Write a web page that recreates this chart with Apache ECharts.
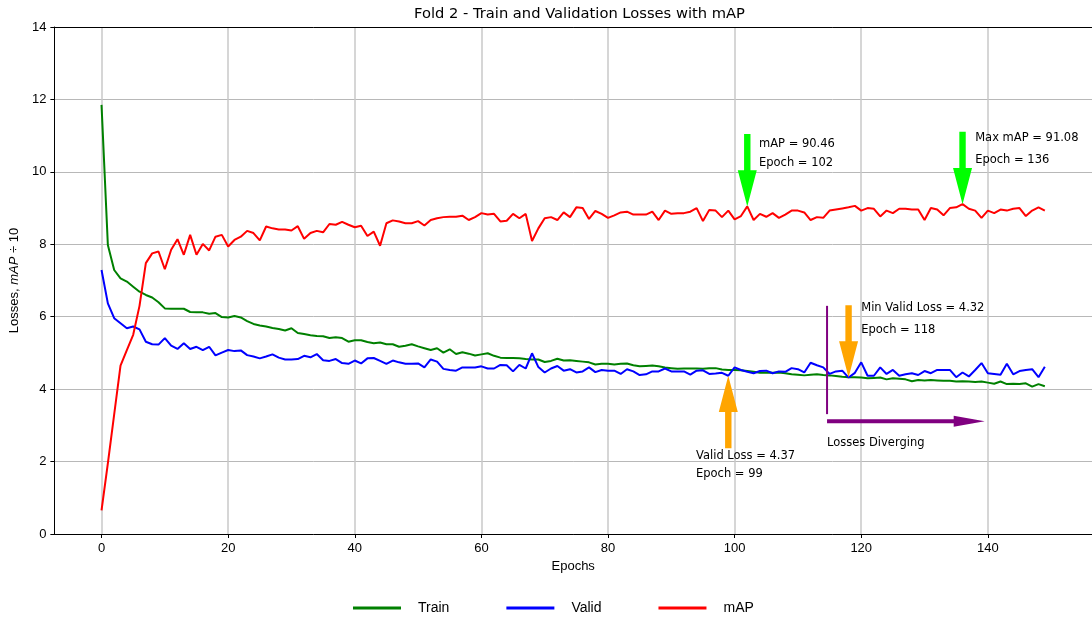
<!DOCTYPE html>
<html>
<head>
<meta charset="utf-8">
<script src="https://cdn.jsdelivr.net/npm/echarts@6/dist/echarts.min.js"></script>
<style>
  html, body { margin: 0; padding: 0; background: #ffffff; }
  #chart { width: 1092px; height: 621px; }
</style>
</head>
<body>
<div id="chart"></div>
<script>
// Per-epoch training history for fold 2 (mAP is stored divided by 10)
const trainLoss = [
  11.85, 7.98, 7.29, 7.06, 6.97, 6.83, 6.69, 6.60, 6.53, 6.40,
  6.23, 6.22, 6.22, 6.22, 6.13, 6.12, 6.12, 6.08, 6.10, 5.99,
  5.98, 6.02, 5.98, 5.88, 5.80, 5.76, 5.73, 5.69, 5.66, 5.62,
  5.68, 5.55, 5.52, 5.49, 5.47, 5.46, 5.41, 5.43, 5.41, 5.31,
  5.35, 5.35, 5.30, 5.27, 5.29, 5.24, 5.24, 5.17, 5.20, 5.24,
  5.18, 5.13, 5.08, 5.13, 5.01, 5.10, 4.97, 5.02, 4.98, 4.93,
  4.96, 4.99, 4.92, 4.87, 4.86, 4.86, 4.85, 4.83, 4.82, 4.82,
  4.75, 4.78, 4.84, 4.79, 4.80, 4.78, 4.76, 4.74, 4.68, 4.70,
  4.70, 4.68, 4.70, 4.71, 4.66, 4.63, 4.64, 4.65, 4.63, 4.60,
  4.58, 4.56, 4.57, 4.57, 4.57, 4.56, 4.58, 4.58, 4.54, 4.53,
  4.53, 4.52, 4.50, 4.48, 4.45, 4.46, 4.45, 4.46, 4.44, 4.41,
  4.40, 4.38, 4.40, 4.41, 4.39, 4.38, 4.36, 4.34, 4.33, 4.33,
  4.32, 4.30, 4.31, 4.32, 4.27, 4.30, 4.29, 4.27, 4.22, 4.25,
  4.24, 4.25, 4.24, 4.23, 4.23, 4.21, 4.22, 4.21, 4.20, 4.21,
  4.18, 4.15, 4.21, 4.14, 4.15, 4.14, 4.16, 4.07, 4.14, 4.08
];
const validLoss = [
  7.29, 6.37, 5.96, 5.82, 5.68, 5.73, 5.65, 5.31, 5.24, 5.23,
  5.41, 5.20, 5.11, 5.27, 5.11, 5.17, 5.08, 5.17, 4.93, 5.01,
  5.08, 5.05, 5.07, 4.94, 4.90, 4.85, 4.90, 4.96, 4.87, 4.82,
  4.82, 4.83, 4.92, 4.88, 4.97, 4.80, 4.78, 4.83, 4.72, 4.70,
  4.79, 4.71, 4.85, 4.86, 4.78, 4.70, 4.79, 4.74, 4.70, 4.70,
  4.71, 4.60, 4.82, 4.76, 4.56, 4.53, 4.51, 4.60, 4.60, 4.60,
  4.63, 4.57, 4.57, 4.67, 4.66, 4.49, 4.67, 4.57, 4.99, 4.61,
  4.46, 4.57, 4.64, 4.51, 4.55, 4.46, 4.49, 4.60, 4.47, 4.53,
  4.51, 4.51, 4.42, 4.55, 4.49, 4.39, 4.41, 4.49, 4.49, 4.57,
  4.49, 4.49, 4.49, 4.40, 4.51, 4.52, 4.42, 4.43, 4.45, 4.37,
  4.60, 4.53, 4.48, 4.44, 4.50, 4.51, 4.44, 4.49, 4.48, 4.58,
  4.55, 4.46, 4.73, 4.66, 4.60, 4.42, 4.49, 4.51, 4.32, 4.45,
  4.74, 4.37, 4.37, 4.60, 4.42, 4.53, 4.37, 4.41, 4.44, 4.39,
  4.50, 4.44, 4.53, 4.53, 4.53, 4.33, 4.46, 4.35, 4.53, 4.72,
  4.44, 4.42, 4.40, 4.70, 4.41, 4.50, 4.53, 4.55, 4.33, 4.62
];
const mapScaled = [
  0.65, 1.95, 3.30, 4.65, 5.08, 5.50, 6.30, 7.48, 7.75, 7.80,
  7.31, 7.85, 8.14, 7.71, 8.26, 7.71, 8.01, 7.83, 8.21, 8.26,
  7.94, 8.12, 8.21, 8.37, 8.31, 8.11, 8.49, 8.44, 8.41, 8.41,
  8.38, 8.50, 8.15, 8.31, 8.37, 8.33, 8.56, 8.54, 8.62, 8.54,
  8.47, 8.51, 8.23, 8.35, 7.96, 8.58, 8.66, 8.63, 8.58, 8.58,
  8.64, 8.52, 8.67, 8.72, 8.75, 8.76, 8.76, 8.79, 8.67, 8.75,
  8.86, 8.82, 8.84, 8.63, 8.65, 8.84, 8.72, 8.84, 8.09, 8.44,
  8.72, 8.75, 8.67, 8.88, 8.75, 9.02, 9.00, 8.70, 8.92, 8.84,
  8.73, 8.80, 8.88, 8.90, 8.82, 8.82, 8.82, 8.90, 8.67, 8.93,
  8.84, 8.86, 8.86, 8.90, 9.00, 8.64, 8.95, 8.93, 8.75, 8.93,
  8.69, 8.78, 9.046, 8.67, 8.84, 8.76, 8.86, 8.73, 8.82, 8.93,
  8.93, 8.88, 8.67, 8.75, 8.73, 8.93, 8.96, 8.99, 9.02, 9.06,
  8.93, 9.00, 8.98, 8.77, 8.93, 8.86, 8.98, 8.98, 8.96, 8.96,
  8.67, 9.00, 8.96, 8.80, 9.00, 9.02, 9.108, 8.98, 8.93, 8.73,
  8.93, 8.86, 8.96, 8.93, 8.98, 9.00, 8.78, 8.93, 9.02, 8.93
];
const xTickValues = [0, 20, 40, 60, 80, 100, 120, 140];
const seriesNames = ['Train', 'Valid', 'mAP'];

// Epochs of interest for the annotations
const markedMapEpoch = 102;
const markedValidEpoch = 99;
const divergeStartEpoch = 114.6;
const divergeEndEpoch = 139.5;

const epochs = trainLoss.map((_, i) => i);
const argBest = (arr, better) => arr.reduce((b, v, i) => (better(v, arr[b]) ? i : b), 0);
const bestMapEpoch = argBest(mapScaled, (a, b) => a > b);
const minValidEpoch = argBest(validLoss, (a, b) => a < b);

const toPairs = arr => epochs.map(e => [e, arr[e]]);

const GREEN = '#00ff00', ORANGE = '#ffa500', PURPLE = '#800080';
const annFont = '11.5px "DejaVu Sans"';

// Annotation layout: arrows point at data values; text anchors are in data units
const annotations = [
  { kind: 'down', x: markedMapEpoch, y: mapScaled[markedMapEpoch], color: GREEN,
    lines: ['mAP = ' + (mapScaled[markedMapEpoch] * 10).toFixed(2), 'Epoch = ' + markedMapEpoch],
    textX: markedMapEpoch + 1.85, textY: [10.765, 10.257] },
  { kind: 'down', x: bestMapEpoch, y: mapScaled[bestMapEpoch], color: GREEN,
    lines: ['Max mAP = ' + (mapScaled[bestMapEpoch] * 10).toFixed(2), 'Epoch = ' + bestMapEpoch],
    textX: bestMapEpoch + 2.0, textY: [10.93, 10.33] },
  { kind: 'up', x: markedValidEpoch, y: validLoss[markedValidEpoch], color: ORANGE,
    lines: ['Valid Loss = ' + validLoss[markedValidEpoch].toFixed(2), 'Epoch = ' + markedValidEpoch],
    textX: markedValidEpoch - 5.1, textY: [2.155, 1.657] },
  { kind: 'down', x: minValidEpoch, y: validLoss[minValidEpoch], color: ORANGE,
    lines: ['Min Valid Loss = ' + validLoss[minValidEpoch].toFixed(2), 'Epoch = ' + minValidEpoch],
    textX: minValidEpoch + 2.0, textY: [6.235, 5.635] },
  { kind: 'diverge', x: divergeStartEpoch, y: 3.11, color: PURPLE,
    lines: ['Losses Diverging'], textX: divergeStartEpoch, textY: [2.52] }
];

function verticalArrow(api, a) {
  const dir = a.kind === 'down' ? 1 : -1;           // tail sits above for down arrows
  const tip = api.coord([a.x, a.y]);
  const base = api.coord([a.x, a.y + dir * 1]);
  const tail = api.coord([a.x, a.y + dir * 2]);
  const sw = 3.2, hw = 9.5;
  const cx = tip[0];
  return {
    type: 'polygon',
    shape: { points: [
      [cx - sw, tail[1]], [cx + sw, tail[1]], [cx + sw, base[1]], [cx + hw, base[1]],
      [cx, tip[1]], [cx - hw, base[1]], [cx - sw, base[1]]
    ] },
    style: { fill: a.color }
  };
}

function divergeMarks(api, a) {
  const top = api.coord([a.x, 6.3]);
  const bottom = api.coord([a.x, 3.31]);
  const start = api.coord([a.x, a.y]);
  const end = api.coord([divergeEndEpoch, a.y]);
  const headLen = 31, hh = 5.5, sh = 2;
  const hx = end[0] - headLen, cy = start[1];
  return [
    { type: 'line', shape: { x1: top[0], y1: top[1], x2: bottom[0], y2: bottom[1] },
      style: { stroke: a.color, lineWidth: 2 } },
    { type: 'polygon',
      shape: { points: [
        [start[0], cy - sh], [hx, cy - sh], [hx, cy - hh], [end[0], cy],
        [hx, cy + hh], [hx, cy + sh], [start[0], cy + sh]
      ] },
      style: { fill: a.color } }
  ];
}

function renderAnnotation(params, api) {
  const a = annotations[params.dataIndex];
  const children = a.kind === 'diverge' ? divergeMarks(api, a) : [verticalArrow(api, a)];
  a.lines.forEach((t, i) => {
    const p = api.coord([a.textX, a.textY[i]]);
    children.push({
      type: 'text',
      style: { text: t, x: p[0], y: p[1], font: annFont, fill: '#000000',
               align: 'left', verticalAlign: 'middle' }
    });
  });
  return { type: 'group', children: children };
}

const chart = echarts.init(document.getElementById('chart'), null, { renderer: 'canvas' });

const tickFont = { fontFamily: '"Liberation Sans", Arial, sans-serif', fontSize: 13, color: '#000000' };

chart.setOption({
  animation: false,
  backgroundColor: '#ffffff',
  title: {
    text: 'Fold 2 - Train and Validation Losses with mAP',
    left: 414, top: 7, padding: 0,
    textStyle: { fontFamily: '"DejaVu Sans"', fontSize: 14.7, fontWeight: 'normal', color: '#000000' }
  },
  grid: { left: 52, right: 0, top: 27, bottom: 87, containLabel: false },
  legend: {
    data: seriesNames,
    left: 353, top: 601, padding: 0,
    icon: 'rect', itemWidth: 48, itemHeight: 3, itemGap: 57,
    textStyle: { fontFamily: '"Liberation Sans", Arial, sans-serif', fontSize: 14, color: '#000000',
                 padding: [0, 0, 0, 12] }
  },
  xAxis: [{
    type: 'value', min: -7.45, max: 156.45,
    name: 'Epochs', nameLocation: 'middle', nameGap: 24,
    nameTextStyle: tickFont,
    axisLine: { show: true, onZero: false, lineStyle: { color: '#000000', width: 1 } },
    axisTick: { show: true, customValues: xTickValues, length: 4, inside: false,
                lineStyle: { color: '#000000' } },
    axisLabel: { customValues: xTickValues, margin: 8, ...tickFont },
    splitLine: { show: true, lineStyle: { color: '#c8c8c8', width: 1.5 } }
  }, {
    type: 'value', position: 'top', min: -7.45, max: 156.45,
    axisLine: { show: true, onZero: false, lineStyle: { color: '#000000', width: 1 } },
    axisTick: { show: false }, axisLabel: { show: false }, splitLine: { show: false }
  }],
  yAxis: {
    type: 'value', min: 0, max: 14, interval: 2,
    name: '{n|Losses, }{i|mAP}{n| ÷ 10}', nameLocation: 'middle', nameGap: 23,
    nameTextStyle: { rich: {
      n: { fontFamily: '"Liberation Sans", Arial, sans-serif', fontSize: 13, color: '#000000' },
      i: { fontFamily: '"Liberation Sans", Arial, sans-serif', fontSize: 13, fontStyle: 'italic', color: '#000000' }
    } },
    axisLine: { show: true, onZero: false, lineStyle: { color: '#000000', width: 1 } },
    axisTick: { show: true, length: 4, lineStyle: { color: '#000000' } },
    axisLabel: { margin: 8, ...tickFont },
    splitLine: { show: true, lineStyle: { color: '#b8b8b8', width: 1 } }
  },
  series: [
    { name: 'Train', type: 'line', data: toPairs(trainLoss), showSymbol: false,
      color: '#008000', lineStyle: { color: '#008000', width: 2 } },
    { name: 'Valid', type: 'line', data: toPairs(validLoss), showSymbol: false,
      color: '#0000ff', lineStyle: { color: '#0000ff', width: 2 } },
    { name: 'mAP', type: 'line', data: toPairs(mapScaled), showSymbol: false,
      color: '#ff0000', lineStyle: { color: '#ff0000', width: 2 } },
    { name: 'annotations', type: 'custom', renderItem: renderAnnotation, clip: false,
      data: annotations.map(a => [a.x, a.y]), encode: { x: 0, y: 1 }, z: 5, silent: true }
  ]
});
</script>
</body>
</html>
